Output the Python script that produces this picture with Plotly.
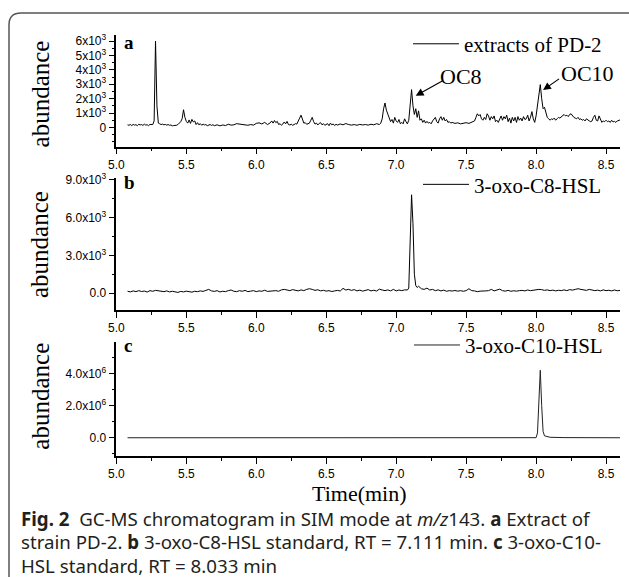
import plotly.graph_objects as go

W, H = 629, 577

# ---------------- data ----------------
time_a = [5.08,5.09,5.10,5.11,5.12,5.13,5.14,5.15,5.16,5.17,5.18,5.19,5.20,5.21,5.22,5.23,5.24,5.25,5.26,5.27,
          5.28,5.29,5.30,5.31,5.32,5.33,5.34,5.35,5.36,5.37,5.38,5.39,5.40,5.41,5.42,5.43,5.44,5.45,5.46,5.47,
          5.48,5.49,5.50,5.51,5.52,5.53,5.54,5.55,5.56,5.57,5.58,5.59,5.60,5.61,5.62,5.63,5.64,5.65,5.66,5.67,
          5.68,5.69,5.70,5.72,5.74,5.76,5.78,5.80,5.82,5.84,5.86,5.88,5.90,5.92,5.94,5.96,5.98,6.00,6.02,6.04,
          6.06,6.08,6.10,6.11,6.12,6.13,6.14,6.15,6.16,6.17,6.18,6.19,6.20,6.21,6.22,6.23,6.24,6.25,6.26,6.27,
          6.28,6.29,6.30,6.31,6.32,6.33,6.34,6.35,6.36,6.37,6.38,6.39,6.40,6.41,6.42,6.43,6.44,6.45,6.46,6.47,
          6.48,6.49,6.50,6.51,6.52,6.53,6.54,6.55,6.56,6.57,6.58,6.60,6.62,6.64,6.66,6.68,6.70,6.72,6.74,6.76,
          6.78,6.80,6.82,6.84,6.86,6.88,6.89,6.90,6.91,6.92,6.93,6.94,6.95,6.96,6.97,6.98,6.99,7.00,7.01,7.02,
          7.03,7.04,7.05,7.06,7.07,7.08,7.09,7.10,7.11,7.12,7.13,7.14,7.15,7.16,7.17,7.18,7.19,7.20,7.21,7.22,
          7.23,7.24,7.25,7.26,7.27,7.28,7.29,7.30,7.31,7.32,7.33,7.34,7.35,7.36,7.37,7.38,7.39,7.40,7.42,7.44,
          7.46,7.48,7.50,7.52,7.54,7.56,7.57,7.58,7.59,7.60,7.61,7.62,7.63,7.64,7.65,7.66,7.67,7.68,7.69,7.70,
          7.71,7.72,7.73,7.74,7.75,7.76,7.77,7.78,7.79,7.80,7.81,7.82,7.83,7.84,7.85,7.86,7.87,7.88,7.89,7.90,
          7.91,7.92,7.93,7.94,7.95,7.96,7.97,7.98,7.99,8.00,8.01,8.02,8.03,8.04,8.05,8.06,8.07,8.08,8.09,8.10,
          8.11,8.12,8.13,8.14,8.15,8.16,8.17,8.18,8.19,8.20,8.21,8.22,8.23,8.24,8.25,8.26,8.27,8.28,8.29,8.30,
          8.31,8.32,8.33,8.34,8.35,8.36,8.37,8.38,8.39,8.40,8.41,8.42,8.43,8.44,8.45,8.46,8.47,8.48,8.49,8.50,
          8.51,8.52,8.53,8.54,8.55,8.56,8.57,8.58,8.59,8.60]
abund_a = [180,150,200,130,210,160,190,120,220,170,200,140,230,160,190,120,210,180,200,450,
           6000,1500,300,250,200,230,180,210,160,200,150,170,110,130,120,150,200,280,400,600,
           1230,700,420,300,520,280,560,380,450,200,330,180,260,150,230,170,200,120,180,200,
           140,190,120,180,110,170,130,220,160,180,260,240,180,210,150,200,160,280,320,240,
           350,200,320,450,300,480,330,420,200,260,150,240,380,250,420,200,170,220,150,200,
           260,230,400,650,850,500,300,330,220,260,300,500,700,400,230,300,170,280,330,180,
           260,150,220,260,120,300,180,240,130,220,160,240,180,270,200,160,200,150,210,170,
           200,160,220,180,260,200,300,600,1300,1700,1200,900,600,400,550,300,700,450,350,550,
           250,350,250,600,400,250,500,1600,2630,1500,900,1300,700,1150,500,600,350,500,300,420,
           300,350,250,450,550,700,400,300,600,750,500,700,450,550,350,400,300,350,280,320,
           250,300,330,280,350,450,700,950,800,900,600,500,700,550,950,800,500,750,600,800,
           400,500,350,600,800,500,750,600,850,400,650,300,700,450,700,350,750,500,650,450,
           750,550,600,850,450,700,1100,600,350,800,1500,2400,2980,2000,1300,1400,1100,700,600,500,
           600,550,650,500,600,700,650,750,850,900,800,850,750,900,950,800,700,650,600,700,
           550,600,500,550,450,600,500,450,400,450,700,850,500,450,800,600,350,450,400,500,
           400,450,350,500,380,420,350,450,500,520]

time_b = [5.08,5.10,5.12,5.14,5.16,5.18,5.20,5.22,5.24,5.26,5.28,5.30,5.32,5.34,5.36,5.38,5.40,5.42,5.44,5.46,
          5.48,5.50,5.52,5.54,5.56,5.58,5.60,5.62,5.64,5.66,5.68,5.70,5.72,5.74,5.76,5.78,5.80,5.82,5.84,5.86,
          5.88,5.90,5.92,5.94,5.96,5.98,6.00,6.02,6.04,6.06,6.08,6.10,6.12,6.14,6.16,6.18,6.20,6.22,6.24,6.26,
          6.28,6.30,6.32,6.34,6.36,6.38,6.40,6.42,6.44,6.46,6.48,6.50,6.52,6.54,6.56,6.58,6.60,6.62,6.64,6.66,
          6.68,6.70,6.72,6.74,6.76,6.78,6.80,6.82,6.84,6.86,6.88,6.90,6.92,6.94,6.96,6.98,7.00,7.02,7.04,7.06,
          7.08,7.09,7.10,7.11,7.12,7.13,7.14,7.15,7.16,7.18,7.20,7.22,7.24,7.26,7.28,7.30,7.32,7.34,7.36,7.38,
          7.40,7.42,7.44,7.46,7.48,7.50,7.52,7.54,7.56,7.58,7.60,7.62,7.64,7.66,7.68,7.70,7.72,7.74,7.76,7.78,
          7.80,7.82,7.84,7.86,7.88,7.90,7.92,7.94,7.96,7.98,8.00,8.02,8.04,8.06,8.08,8.10,8.12,8.14,8.16,8.18,
          8.20,8.22,8.24,8.26,8.28,8.30,8.32,8.34,8.36,8.38,8.40,8.42,8.44,8.46,8.48,8.50,8.52,8.54,8.56,8.58,
          8.60]
abund_b = [150,100,180,120,200,130,170,90,200,150,220,180,150,120,180,100,150,120,60,140,
           100,160,120,80,150,120,180,140,220,300,180,140,200,100,150,120,200,250,150,120,
           200,150,220,120,160,200,120,180,150,230,140,160,120,200,150,260,300,250,200,280,
           230,180,260,200,300,350,300,220,270,180,230,160,200,130,180,220,170,380,250,300,
           220,280,180,240,160,220,280,180,230,170,320,250,200,260,180,300,180,250,200,260,
           250,400,4500,7800,5500,1500,600,450,550,350,300,400,250,300,200,260,180,240,150,200,
           170,210,160,200,150,200,350,200,180,120,160,140,180,200,300,180,250,320,200,160,
           220,150,190,160,200,220,180,250,200,240,260,300,280,220,260,200,240,180,230,200,
           260,200,280,240,300,350,300,250,220,300,250,200,240,180,260,200,230,180,250,190,
           220]

time_c = [5.08,6.00,7.00,7.98,8.00,8.01,8.02,8.03,8.04,8.05,8.06,8.08,8.10,8.20,8.38,8.40,8.60]
abund_c = [0,0,0,0,5000,300000,2500000,4200000,2000000,400000,120000,60000,30000,10000,5000,0,0]

ticks_a = [0, 1000, 2000, 3000, 4000, 5000, 6000]
ticklabels_a = ["0", "1x10<sup>3</sup>", "2x10<sup>3</sup>", "3x10<sup>3</sup>",
                "4x10<sup>3</sup>", "5x10<sup>3</sup>", "6x10<sup>3</sup>"]
ticks_b = [0, 3000, 6000, 9000]
ticklabels_b = ["0.0", "3.0x10<sup>3</sup>", "6.0x10<sup>3</sup>", "9.0x10<sup>3</sup>"]
ticks_c = [0, 2000000, 4000000]
ticklabels_c = ["0.0", "2.0x10<sup>6</sup>", "4.0x10<sup>6</sup>"]

names = ["extracts of PD-2", "3-oxo-C8-HSL", "3-oxo-C10-HSL"]

# ---------------- layout helpers ----------------
# positions are given as pixel positions measured on the reference picture,
# mapped to paper fractions (small calibration for how the page is captured)
def _t(v):
    return (v - 8) / 0.984

def px(x):
    return _t(x) / W

def py(y):
    return 1 - _t(y) / H

X0, X1 = 116, 618          # 5.0 .. 8.6
panels = {"a": (36, 147), "b": (178, 310), "c": (342, 455)}
ranges = {"a": [-1330, 6420], "b": [-1350, 9160], "c": [-1120000, 5940000]}

SERIF = "Liberation Serif, Times New Roman, serif"
SANS = "Liberation Sans, Arial, sans-serif"

fig = go.Figure()
fig.add_trace(go.Scatter(x=time_a, y=abund_a, mode="lines", name=names[0],
                         line=dict(color="black", width=1), xaxis="x", yaxis="y", legend="legend"))
fig.add_trace(go.Scatter(x=time_b, y=abund_b, mode="lines", name=names[1],
                         line=dict(color="black", width=1), xaxis="x2", yaxis="y2", legend="legend2"))
fig.add_trace(go.Scatter(x=time_c, y=abund_c, mode="lines", name=names[2],
                         line=dict(color="#222222", width=1), xaxis="x3", yaxis="y3", legend="legend3"))

def xaxis_cfg(anchor):
    return dict(domain=[px(X0), px(X1)], range=[5.0, 8.6], anchor=anchor,
                tickmode="linear", tick0=5.0, dtick=0.5, tickformat=".1f",
                showline=True, linecolor="black", linewidth=1.5, ticks="outside",
                ticklen=6, tickwidth=1.2, tickcolor="black", showgrid=False, zeroline=False,
                tickfont=dict(family=SANS, size=12, color="black"),
                minor=dict(dtick=0.25, tick0=5.0, ticks="outside", ticklen=3, tickcolor="black",
                           tickwidth=1.2, showgrid=False))

def yaxis_cfg(anchor, top, bot, rng, tv, tt, minor_vals):
    return dict(domain=[py(bot), py(top)], range=rng, anchor=anchor,
                tickmode="array", tickvals=tv, ticktext=tt,
                showline=True, linecolor="black", linewidth=1.5, ticks="outside",
                ticklen=6, tickwidth=1.2, tickcolor="black", showgrid=False, zeroline=False,
                tickfont=dict(family=SANS, size=12, color="black"),
                minor=dict(tickmode="array", tickvals=minor_vals, ticks="outside", ticklen=3,
                           tickcolor="black", tickwidth=1.2, showgrid=False))

ta, ba = panels["a"]; tb, bb = panels["b"]; tc, bc = panels["c"]
layout = dict(
    width=W, height=H, margin=dict(l=0, r=0, t=0, b=0),
    paper_bgcolor="white", plot_bgcolor="white",
    xaxis=xaxis_cfg("y"), xaxis2=xaxis_cfg("y2"), xaxis3=xaxis_cfg("y3"),
    yaxis=yaxis_cfg("x", ta, ba, ranges["a"], ticks_a, ticklabels_a,
                    [-1000, -500, 500, 1500, 2500, 3500, 4500, 5500]),
    yaxis2=yaxis_cfg("x2", tb, bb, ranges["b"], ticks_b, ticklabels_b, [1500, 4500, 7500]),
    yaxis3=yaxis_cfg("x3", tc, bc, ranges["c"], ticks_c, ticklabels_c,
                     [-1000000, 1000000, 3000000, 5000000]),
    showlegend=True,
)
leg_common = dict(xanchor="right", yanchor="middle", bgcolor="rgba(0,0,0,0)", borderwidth=0,
                  font=dict(family=SERIF, size=21, color="black"), itemwidth=46,
                  itemclick=False, itemdoubleclick=False)
layout["legend"] = dict(x=px(605), y=py(45), **leg_common)
layout["legend2"] = dict(x=px(605), y=py(185), **leg_common)
layout["legend3"] = dict(x=px(606), y=py(345), **leg_common)
fig.update_layout(**layout)

# panel letters and y titles
letter_y = {"a": 43, "b": 183, "c": 345}
title_y = {"a": 95, "b": 245, "c": 396}
for letter in panels:
    fig.add_annotation(text=f"<b>{letter}</b>", xref="paper", yref="paper", x=px(122), y=py(letter_y[letter]),
                       xanchor="left", yanchor="middle", showarrow=False,
                       font=dict(family=SERIF, size=19, color="black"))
    fig.add_annotation(text="abundance", xref="paper", yref="paper", x=px(40), y=py(title_y[letter]),
                       textangle=-90, xanchor="center", yanchor="middle", showarrow=False,
                       font=dict(family=SERIF, size=25, color="black"))

# peak labels with arrows (panel a, data coordinates)
fig.add_annotation(x=7.14, y=2200, ax=7.34, ay=3280, xref="x", yref="y", axref="x", ayref="y",
                   text="", showarrow=True, arrowhead=2, arrowsize=1.3, arrowwidth=1.2, arrowcolor="black")
fig.add_annotation(x=7.46, y=3560, xref="x", yref="y", text="OC8", showarrow=False,
                   font=dict(family=SERIF, size=22, color="black"))
fig.add_annotation(x=8.05, y=2600, ax=8.175, ay=3450, xref="x", yref="y", axref="x", ayref="y",
                   text="", showarrow=True, arrowhead=2, arrowsize=1.3, arrowwidth=1.2, arrowcolor="black")
fig.add_annotation(x=8.37, y=3780, xref="x", yref="y", text="OC10", showarrow=False,
                   font=dict(family=SERIF, size=22, color="black"))

# x axis title
fig.add_annotation(text="Time(min)", xref="paper", yref="paper", x=px(358), y=py(493),
                   showarrow=False, xanchor="center", yanchor="middle",
                   font=dict(family=SERIF, size=22, color="black"))

# caption
CAP = "Noto Sans, Open Sans, sans-serif"
cap_lines = [
    "<b>Fig. 2</b>  GC-MS chromatogram in SIM mode at <i>m/z</i>143. <b>a</b> Extract of",
    "strain PD-2. <b>b</b> 3-oxo-C8-HSL standard, RT = 7.111 min. <b>c</b> 3-oxo-C10-",
    "HSL standard, RT = 8.033 min",
]
cap_y = [517, 540.5, 564]
for line, yy in zip(cap_lines, cap_y):
    fig.add_annotation(text=line, xref="paper", yref="paper", x=px(20), y=py(yy),
                       showarrow=False, xanchor="left", yanchor="middle", borderpad=0,
                       font=dict(family=CAP, size=18.7, color="#231f20"))

# rounded frame
r = 12
L, T = 9, 14
path = (f"M {px(L)},{py(600)} L {px(L)},{py(T + r)} "
        f"Q {px(L)},{py(T)} {px(L + r)},{py(T)} L {px(660)},{py(T)}")
fig.add_shape(type="path", path=path, xref="paper", yref="paper",
              line=dict(color="#555555", width=1.5))

fig.write_html("out.html", config={"displayModeBar": False},
               post_script="document.body.style.margin='0';")
